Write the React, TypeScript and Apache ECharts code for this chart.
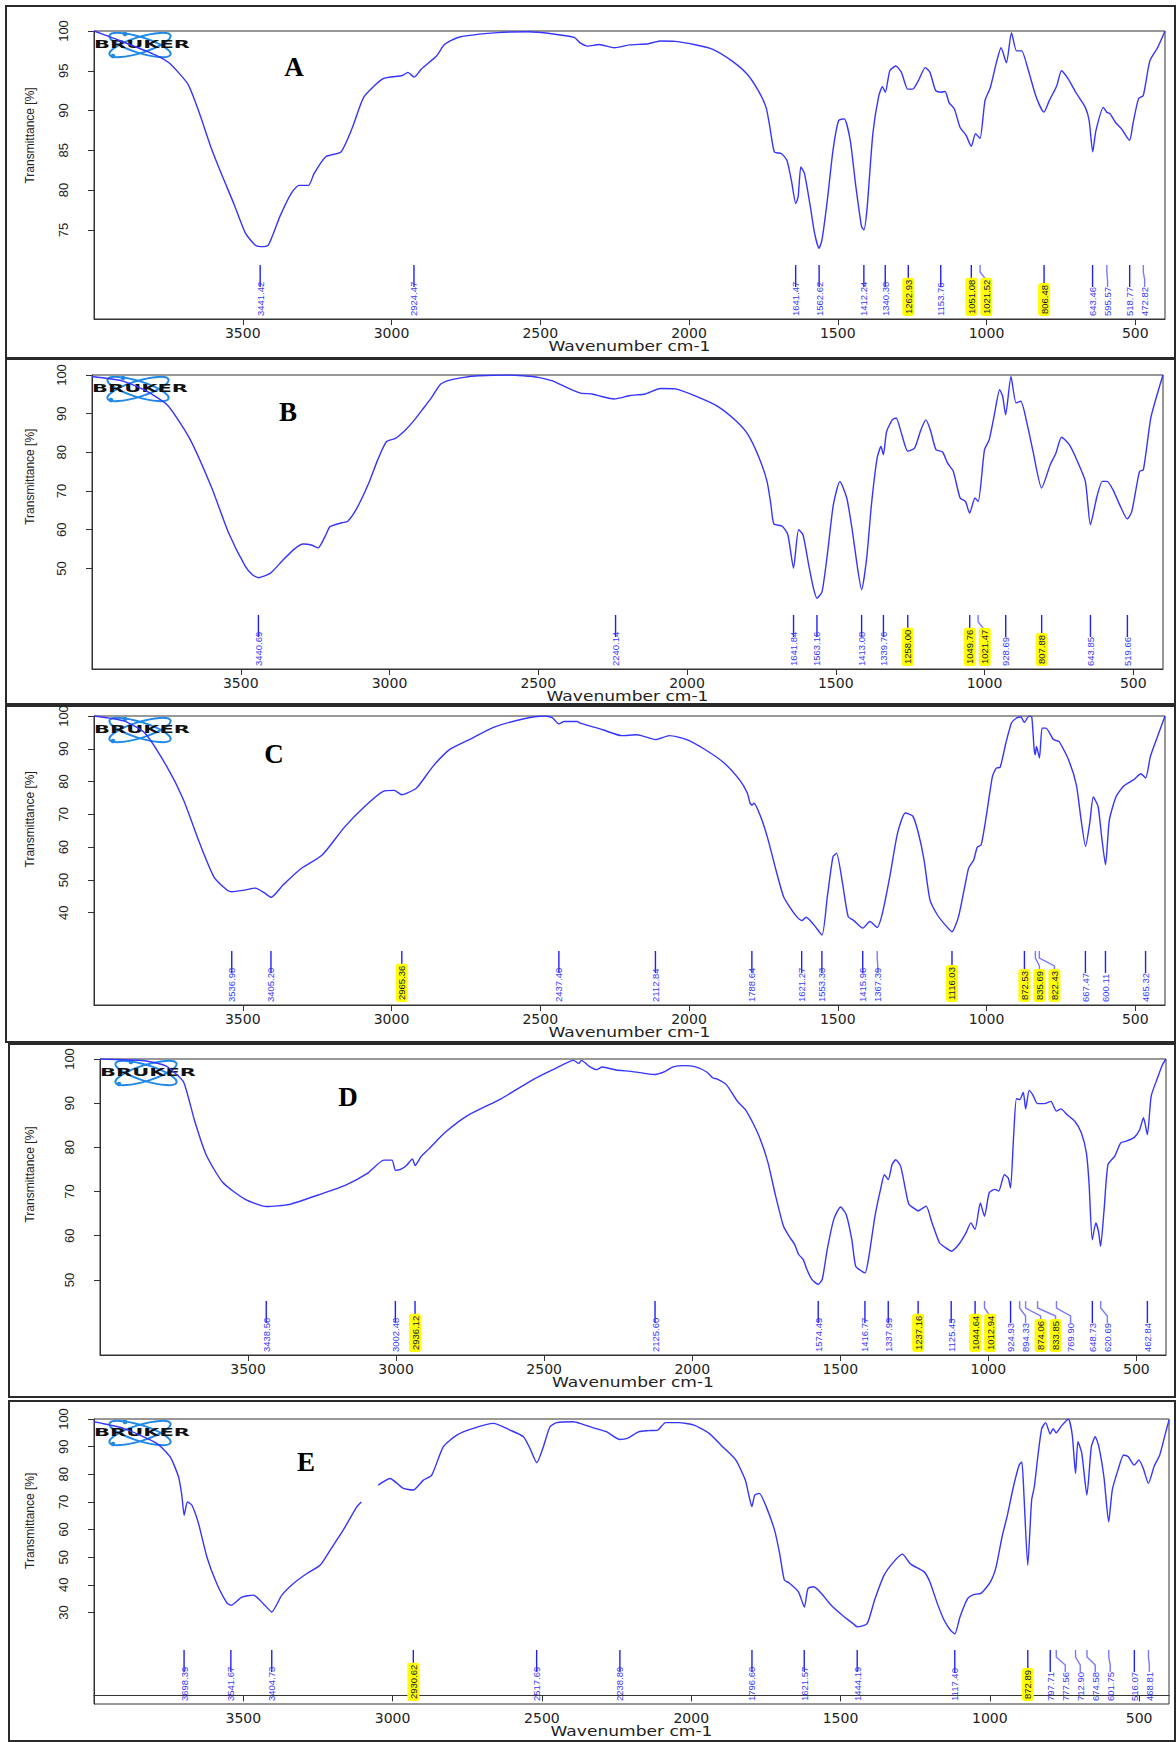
import React, { useEffect, useRef } from 'react';
import * as echarts from 'echarts';

const X_TICKS = [3500, 3000, 2500, 2000, 1500, 1000, 500];

const specA = [[4000,100],[3928,99],[3800,97.1],[3748,96],[3684,93.3],[3645,89.6],[3607,85.4],[3568,81.7],[3530,78.3],[3491,74.6],[3459,73.1],[3441,72.9],[3414,73.1],[3375,76.7],[3337,79.6],[3311,80.6],[3279,80.6],[3260,82.1],[3221,84.2],[3170,84.8],[3131,87.9],[3093,91.7],[3028,94],[2964,94.4],[2945,94.8],[2924,94.2],[2900,95.2],[2848,96.9],[2822,98.3],[2771,99.25],[2643,99.8],[2540,99.9],[2450,99.6],[2386,99.2],[2366,98.5],[2340,98.1],[2302,98.3],[2251,97.9],[2200,98.25],[2136,98.4],[2098,98.75],[2047,98.7],[1983,98.3],[1920,97.7],[1856,96.25],[1805,94.6],[1767,92.5],[1741,90.4],[1728,87.9],[1713,84.8],[1690,84.6],[1671,83.75],[1656,81.25],[1641,78.3],[1633,79.2],[1624,82.9],[1612,82.1],[1592,77.9],[1578,74.6],[1563,72.7],[1553,73.75],[1535,78.75],[1516,85],[1497,88.75],[1478,88.96],[1458,86.25],[1439,80.4],[1420,75.4],[1412,75],[1401,77.9],[1382,87.1],[1363,91.7],[1350,93],[1340,92.3],[1325,95],[1305,95.6],[1286,94.8],[1265,92.7],[1248,92.7],[1229,93.75],[1206,95.4],[1190,94.8],[1171,92.5],[1154,92.3],[1139,92.4],[1126,91],[1108,90.2],[1089,87.9],[1069,86.9],[1051,85.5],[1037,87.1],[1022,86.5],[1005,91.25],[987,92.9],[967,96],[951,97.9],[933,96],[916,99.8],[899,97.5],[882,97.5],[859,95],[833,91.7],[807,89.8],[789,91.25],[764,93.1],[748,95],[726,94],[700,92.3],[668,90.4],[655,88.75],[643,84.8],[632,87.5],[607,90.4],[596,89.8],[585,89.6],[566,88.5],[546,87.7],[519,86.25],[508,88.3],[489,91.5],[473,91.9],[451,96.25],[425,97.9],[400,100]];

const specB = [[4000,99.6],[3900,98.5],[3821,96],[3746,92.2],[3672,83.6],[3597,70.7],[3541,59.2],[3485,50.6],[3460,48.3],[3440,47.6],[3400,48.8],[3360,52],[3320,55],[3290,56.3],[3260,56],[3240,55.3],[3215,58.5],[3200,60.8],[3160,61.8],[3140,62.2],[3110,65.5],[3070,72],[3040,78],[3010,82.8],[2980,83.6],[2950,85.5],[2920,88],[2890,91],[2860,94],[2830,97.5],[2800,98.6],[2750,99.4],[2700,99.8],[2600,100],[2550,99.8],[2500,99.4],[2450,98.4],[2400,96.6],[2357,95.3],[2319,95.1],[2290,94.5],[2245,93.8],[2191,94.7],[2140,95.1],[2089,96.5],[2038,96.4],[1961,94.2],[1897,91.9],[1833,88],[1795,84.6],[1757,78.5],[1731,72.5],[1718,66.5],[1708,61.5],[1680,60.9],[1661,58.7],[1642,50.1],[1625,60],[1610,58.7],[1591,50.9],[1575,44.9],[1563,42.3],[1546,44],[1527,54.4],[1508,66.5],[1486,72.5],[1463,68.2],[1444,59.6],[1425,49.2],[1413,44.5],[1396,52.7],[1380,66.5],[1361,78.5],[1348,81.5],[1340,79.4],[1329,85.4],[1310,88.4],[1297,88.9],[1278,84.6],[1258,80.3],[1235,81.1],[1214,85.8],[1197,88.4],[1182,85.8],[1163,80.7],[1141,80.1],[1124,77.2],[1105,75.1],[1082,68.2],[1064,67.3],[1050,64.3],[1032,68.2],[1021,67.3],[1000,80.7],[984,83.3],[967,89.7],[949,96.2],[939,94.5],[929,89.7],[911,99.6],[894,92.8],[878,93.2],[856,87.1],[837,80.3],[808,70.8],[779,76.8],[760,79.8],[741,83.9],[715,82],[690,78.1],[661,72.5],[644,61.3],[622,68.6],[604,72.5],[588,72.5],[568,70.3],[543,66],[520,62.8],[505,64.7],[479,75.1],[466,75.5],[441,88.9],[415,96.2],[400,100]];

const specC = [[4000,100],[3900,98.5],[3830,94.9],[3756,84.7],[3700,74.6],[3644,61],[3596,50.8],[3551,46.8],[3537,46.4],[3500,46.8],[3457,47.5],[3428,46.1],[3405,44.7],[3364,48.5],[3308,53.2],[3233,57.6],[3158,66.1],[3084,72.9],[3028,77],[2991,77.3],[2965,76],[2953,76.3],[2916,78],[2860,84.7],[2804,89.8],[2730,93.2],[2655,96.6],[2562,99],[2487,100],[2460,99.5],[2437,97.6],[2420,98.3],[2376,98.3],[2366,97.85],[2290,95.8],[2226,94],[2175,94.3],[2112,92.8],[2066,94],[2008,92.8],[1945,89.7],[1881,85.6],[1830,80.5],[1804,76.5],[1795,73.5],[1788,72.8],[1782,73.4],[1759,69.3],[1734,62.2],[1708,53.1],[1682,44.9],[1651,40.3],[1635,38.5],[1621,37.6],[1606,38.6],[1580,36.3],[1553,33.2],[1535,44.9],[1516,57.1],[1504,58.1],[1484,49],[1465,38.8],[1446,37.6],[1416,35.3],[1392,37.3],[1367,35.5],[1350,39.8],[1325,51],[1299,64.3],[1273,70.4],[1248,69.5],[1229,64.3],[1210,56.1],[1190,43.9],[1165,39.3],[1139,36.3],[1116,34.2],[1094,38.8],[1073,48],[1060,53.6],[1043,56.1],[1031,60],[1018,60.7],[1001,69.3],[980,81.6],[967,84.1],[954,84.4],[935,91.7],[916,97.85],[899,99.4],[884,99.7],[873,98],[858,99.9],[848,99.7],[840,90],[836,88.2],[832,90.7],[822,87.2],[813,96.3],[800,96.3],[775,92.8],[756,92.2],[724,86.6],[698,79],[682,68.3],[667,60.2],[653,67.3],[641,75.3],[625,72.4],[613,63.2],[600,54.6],[587,68.3],[564,75.5],[538,78.7],[506,80.5],[481,82.4],[465,81.1],[449,87.7],[423,94.3],[400,100]];

const specD = [[4000,100],[3850,99.6],[3780,98.5],[3750,97],[3717,94.7],[3680,85.9],[3642,78.4],[3586,72.1],[3511,68.3],[3438,66.6],[3360,67.1],[3247,69.6],[3172,71.4],[3097,74.1],[3041,77.1],[3014,77.1],[3002,74.8],[2985,75],[2965,75.9],[2945,77.4],[2936,75.9],[2915,78],[2890,79.6],[2834,83.4],[2759,87.2],[2646,91],[2533,95.5],[2458,98],[2401,99.7],[2383,99],[2374,99.7],[2349,98.4],[2323,97.6],[2304,98.2],[2258,97.5],[2207,97.2],[2155,96.7],[2125,96.5],[2091,97.2],[2065,98.2],[2027,98.5],[1988,98.2],[1950,97],[1930,95.7],[1917,95.5],[1885,94.2],[1847,90.4],[1821,88.6],[1795,85.5],[1770,81.8],[1744,76.5],[1718,68.9],[1692,62.2],[1673,59.9],[1654,58],[1641,55.8],[1625,54.6],[1613,52.4],[1596,50.1],[1575,49],[1561,50.1],[1544,56.9],[1522,63.7],[1499,66.5],[1480,64.8],[1461,59.1],[1448,53.1],[1428,52],[1416,51.6],[1403,55.4],[1383,64.4],[1364,70.5],[1351,73.8],[1338,72.7],[1325,76.1],[1313,77.2],[1296,75.7],[1280,70.5],[1268,67.1],[1242,65.8],[1237,65.6],[1225,66.1],[1210,66.7],[1190,62.9],[1165,58.4],[1145,57.3],[1125,56.5],[1100,58],[1075,60.7],[1059,62.9],[1045,61.4],[1027,67.4],[1013,64.4],[997,69.7],[978,70.5],[965,70.1],[946,73.8],[933,73.1],[925,70.8],[914,83.3],[905,91],[894,90.8],[882,92.5],[874,88.7],[862,92.9],[850,91.9],[834,89.9],[811,89.9],[789,90.4],[770,88.2],[755,88.7],[734,87.4],[708,85.9],[686,83.3],[669,78.8],[660,72],[649,59.1],[637,62.9],[628,61],[621,57.6],[609,65.9],[596,76.1],[573,78],[553,81],[534,81.4],[508,82.2],[489,84],[476,86.7],[463,82.9],[450,91.6],[431,95.3],[412,98.7],[400,100]];

const specE = [[4000,99],[3901,96.6],[3790,91.2],[3745,86.3],[3717,79.1],[3706,72.5],[3698,65.2],[3687,70],[3672,68.8],[3650,62.2],[3622,50.1],[3589,40.5],[3555,33.5],[3541,32.6],[3505,35.6],[3466,36.3],[3433,33.2],[3405,30.2],[3371,36.3],[3332,40.5],[3287,44.1],[3243,47.1],[3209,52.6],[3165,59.9],[3120,68.2],[3105,70],[3080,null],[3048,76.1],[3009,78.5],[2964,74.9],[2931,74.3],[2897,77.9],[2869,79.7],[2830,90],[2785,94.2],[2730,96.6],[2663,98.4],[2607,96],[2562,93.6],[2540,89.4],[2517,84.2],[2495,90],[2473,97.2],[2450,98.7],[2395,99],[2373,98.4],[2322,96.6],[2284,95.4],[2240,92.6],[2214,93],[2175,95.4],[2144,95.8],[2112,96],[2086,98.7],[2042,98.7],[1991,97.8],[1940,94.8],[1895,90],[1851,85.2],[1819,77.9],[1806,71.9],[1797,68.3],[1787,72.5],[1772,73.1],[1749,68.3],[1721,59.8],[1704,51.4],[1688,41.7],[1672,40.7],[1641,37.5],[1621,32],[1609,38.7],[1590,39.3],[1564,36.9],[1532,32.7],[1494,29],[1456,25.8],[1444,24.8],[1411,26],[1386,34.5],[1354,43.5],[1322,48.3],[1293,51.1],[1265,47.5],[1220,44.7],[1201,41.1],[1176,33.3],[1153,27.2],[1131,23.5],[1117,22.3],[1100,28.4],[1074,35.1],[1055,36.5],[1030,36.9],[998,41.1],[979,46.5],[959,57.4],[940,65.8],[921,75.5],[902,83.3],[893,84.5],[886,73.1],[873,47.1],[860,70.7],[851,75.5],[838,87.6],[826,96.6],[813,98.7],[798,94.6],[788,96.5],[778,95],[760,97.5],[737,100],[724,94.2],[713,80.3],[705,91.8],[692,87.6],[675,72.5],[660,90],[647,93.6],[635,90],[618,79.1],[602,62.8],[590,74.3],[571,81.5],[552,87],[537,86.4],[516,83.3],[501,85.2],[486,82.1],[469,76.7],[450,82.8],[431,87],[412,94.8],[400,99.6]];

const peaksA = [3441.42, 2924.47, 1641.47, 1562.62, 1412.24, 1340.38, 1262.93, 1153.76, 1051.08, 1021.52, 806.48, 643.46, 595.57, 518.77, 472.82];
const hlA = [1262.93, 1051.08, 1021.52, 806.48];
const peaksB = [3440.69, 2240.14, 1641.84, 1563.16, 1413.08, 1339.76, 1258.00, 1049.76, 1021.47, 928.69, 807.88, 643.85, 519.66];
const hlB = [1258.00, 1049.76, 1021.47, 807.88];
const peaksC = [3536.98, 3405.20, 2965.36, 2437.40, 2112.84, 1788.64, 1621.27, 1553.33, 1415.96, 1367.39, 1116.03, 872.53, 835.69, 822.43, 667.47, 600.11, 465.32];
const hlC = [2965.36, 1116.03, 872.53, 835.69, 822.43];
const peaksD = [3438.56, 3002.48, 2936.12, 2125.60, 1574.49, 1416.77, 1337.99, 1237.16, 1125.43, 1044.64, 1012.94, 924.93, 894.33, 874.06, 833.85, 769.90, 648.73, 620.69, 462.84];
const hlD = [2936.12, 1237.16, 1044.64, 1012.94, 874.06, 833.85];
const peaksE = [3698.39, 3541.67, 3404.73, 2930.62, 2517.69, 2238.89, 1796.60, 1621.57, 1444.19, 1117.40, 872.89, 797.71, 777.56, 712.90, 674.58, 601.75, 516.07, 468.81];
const hlE = [2930.62, 872.89];

const yTicksA = [75, 80, 85, 90, 95, 100];
const yTicksB = [50, 60, 70, 80, 90, 100];
const yTicksC = [40, 50, 60, 70, 80, 90, 100];
const yTicksD = [50, 60, 70, 80, 90, 100];
const yTicksE = [30, 40, 50, 60, 70, 80, 90, 100];

const letters = ['A', 'B', 'C', 'D', 'E'];
const X_TITLE = 'Wavenumber cm-1';
const Y_TITLE = 'Transmittance [%]';

const PANELS = [
  { spec: specA, peaks: peaksA, hl: hlA, yTicks: yTicksA, yMin: 63.8, grid: { left: 94, top: 31, width: 1071, height: 288 }, frame: [6, 6, 1169, 352], letterPos: [294, 67] },
  { spec: specB, peaks: peaksB, hl: hlB, yTicks: yTicksB, yMin: 24, grid: { left: 92, top: 375, width: 1071, height: 294 }, frame: [6, 359, 1169, 345], letterPos: [288, 412] },
  { spec: specC, peaks: peaksC, hl: hlC, yTicks: yTicksC, yMin: 11.85, grid: { left: 94, top: 716, width: 1071, height: 289 }, frame: [6, 706, 1169, 336], letterPos: [274, 754] },
  { spec: specD, peaks: peaksD, hl: hlD, yTicks: yTicksD, yMin: 33, grid: { left: 100, top: 1059, width: 1066, height: 296 }, frame: [9, 1044, 1166, 353], letterPos: [348, 1097] },
  { spec: specE, peaks: peaksE, hl: hlE, yTicks: yTicksE, yMin: -3.1, grid: { left: 94, top: 1419, width: 1075, height: 285 }, frame: [9, 1401, 1166, 340], letterPos: [306, 1462] },
];

const LINE_BLUE = '#3535ff';
const LABEL_BLUE = '#3a3aff';
const NARROW = "'Liberation Sans Narrow', 'Arial Narrow', 'Liberation Sans', sans-serif";
const LABEL_GAP = 15;

function makeRender(peaks: number[], hl: number[], yMin: number) {
  return (params: any, api: any) => {
    const i = params.dataIndex;
    const xs = peaks.map((p) => api.coord([p, yMin])[0]);
    const lx: number[] = [];
    let prev = -Infinity;
    for (let k = 0; k < xs.length; k++) {
      const v = Math.max(xs[k], prev + LABEL_GAP);
      lx.push(v);
      prev = v;
    }
    const bottom = api.coord([peaks[i], yMin])[1];
    const x0 = xs[i];
    const x1 = lx[i];
    const kinked = x1 - x0 > 0.5;
    const pts = kinked
      ? [[x0, bottom - 54], [x0, bottom - 47], [x1, bottom - 39], [x1, bottom - 32]]
      : [[x0, bottom - 54], [x0, bottom - 32]];
    const isHl = hl.indexOf(peaks[i]) >= 0;
    return {
      type: 'group',
      children: [
        {
          type: 'polyline',
          shape: { points: pts },
          style: { stroke: kinked ? '#7a7aff' : '#2222f0', lineWidth: 1.4, fill: null },
        },
        {
          type: 'text',
          x: x1,
          y: bottom - 3,
          rotation: Math.PI / 2,
          style: {
            text: peaks[i].toFixed(2),
            fontSize: 9.5,
            fontFamily: NARROW,
            fill: isHl ? '#141450' : LABEL_BLUE,
            align: 'left',
            verticalAlign: 'middle',
            backgroundColor: isHl ? '#ffff00' : 'transparent',
            borderRadius: isHl ? 3 : 0,
            padding: isHl ? [1, 2] : 0,
          },
        },
      ],
    };
  };
}

function logo(x: number, y: number) {
  const c = '#1f88e8';
  return {
    type: 'group',
    x,
    y,
    children: [
      { type: 'ellipse', x: 46, y: 14, rotation: 0.3, shape: { cx: 0, cy: 0, rx: 32, ry: 8 }, style: { fill: 'none', stroke: c, lineWidth: 2 } },
      { type: 'ellipse', x: 46, y: 14, rotation: -0.3, shape: { cx: 0, cy: 0, rx: 32, ry: 8 }, style: { fill: 'none', stroke: c, lineWidth: 2 } },
      { type: 'circle', shape: { cx: 31, cy: 3, r: 2.3 }, style: { fill: c } },
      { type: 'circle', shape: { cx: 19, cy: 25, r: 2.3 }, style: { fill: c } },
      { type: 'text', x: 0, y: 14, scaleX: 2, style: { text: 'BRUKER', fontSize: 10.5, fontWeight: 'bold', fontFamily: 'DejaVu Sans', fill: '#111', align: 'left', verticalAlign: 'middle' } },
    ],
  };
}

export default function App() {
  const ref = useRef<HTMLDivElement>(null);
  useEffect(() => {
    const chart = echarts.init(ref.current as HTMLDivElement, null, { renderer: 'svg' });
    const grids: any[] = [];
    const xAxes: any[] = [];
    const yAxes: any[] = [];
    const series: any[] = [];
    const graphics: any[] = [];

    PANELS.forEach((p, i) => {
      grids.push({ ...p.grid, show: true, borderColor: '#333', borderWidth: 1, backgroundColor: 'transparent' });
      xAxes.push({
        type: 'value',
        gridIndex: i,
        min: 400,
        max: 4000,
        inverse: true,
        axisLine: { show: true, lineStyle: { color: '#333', width: 1 } },
        axisTick: { show: true, length: 6, customValues: X_TICKS, lineStyle: { color: '#333' } },
        axisLabel: {
          customValues: X_TICKS,
          margin: 7,
          fontFamily: 'DejaVu Sans',
          fontSize: 14,
          color: '#222',
          formatter: (v: number) => String(v),
        },
        splitLine: { show: false },
      });
      yAxes.push({
        type: 'value',
        gridIndex: i,
        min: p.yMin,
        max: 100,
        axisLine: { show: true, lineStyle: { color: '#333', width: 1 } },
        axisTick: { show: true, length: 6, customValues: p.yTicks, lineStyle: { color: '#333' } },
        axisLabel: { customValues: p.yTicks, rotate: 90, margin: 24, fontFamily: NARROW, fontSize: 13, color: '#222' },
        splitLine: { show: false },
      });
      series.push({
        type: 'line',
        xAxisIndex: i,
        yAxisIndex: i,
        data: p.spec,
        showSymbol: false,
        smooth: 0.2,
        connectNulls: false,
        clip: true,
        lineStyle: { color: LINE_BLUE, width: 1.4 },
      });
      series.push({
        type: 'custom',
        xAxisIndex: i,
        yAxisIndex: i,
        data: p.peaks.map((v) => [v, p.yMin]),
        encode: { x: 0, y: 1 },
        clip: false,
        renderItem: makeRender(p.peaks, p.hl, p.yMin),
      });

      const tickMin = p.yTicks[0];
      const yc = p.grid.top + (p.grid.height * (100 - (tickMin + 100) / 2)) / (100 - p.yMin);
      graphics.push({
        type: 'text',
        x: 30,
        y: yc + 5,
        rotation: Math.PI / 2,
        style: { text: Y_TITLE, fontSize: 12, fontFamily: NARROW, fill: '#222', align: 'center', verticalAlign: 'middle' },
      });
      graphics.push({
        type: 'text',
        x: p.grid.left + p.grid.width / 2,
        y: p.grid.top + p.grid.height + 28,
        scaleX: 1.22,
        originX: 0,
        style: { text: X_TITLE, fontSize: 14, fontFamily: 'DejaVu Sans', fill: '#222', align: 'center', verticalAlign: 'middle' },
      });
      graphics.push({
        type: 'rect',
        shape: { x: p.frame[0], y: p.frame[1], width: p.frame[2], height: p.frame[3] },
        style: { fill: 'none', stroke: '#2a2a2a', lineWidth: 2 },
        silent: true,
      });
      graphics.push({
        type: 'text',
        x: p.letterPos[0],
        y: p.letterPos[1],
        style: { text: letters[i], fontSize: 27, fontWeight: 'bold', fontFamily: "'Liberation Serif', serif", fill: '#000', align: 'center', verticalAlign: 'middle' },
      });
      graphics.push(logo(p.grid.left, p.grid.top));
    });

    chart.setOption({
      animation: false,
      backgroundColor: '#fff',
      grid: grids,
      xAxis: xAxes,
      yAxis: yAxes,
      series,
      graphic: graphics,
    });
    return () => chart.dispose();
  }, []);
  return <div ref={ref} style={{ position: 'absolute', left: 0, top: 0, width: 1176, height: 1742, background: '#fff' }} />;
}
